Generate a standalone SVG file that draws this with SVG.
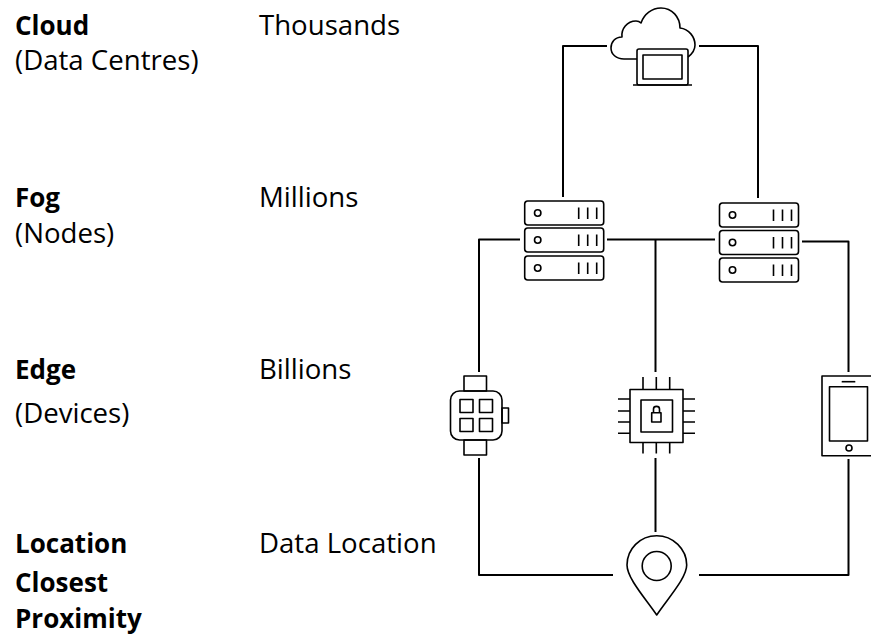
<svg xmlns="http://www.w3.org/2000/svg" width="871" height="635" viewBox="0 0 871 635">
<style>
text{font-family:"Open Sans","Noto Sans","Liberation Sans",sans-serif;font-size:27.6px;fill:#000}
.b{font-weight:700;font-size:26px}
.l{fill:none;stroke:#000;stroke-width:2;stroke-linejoin:round}
.t{fill:none;stroke:#000;stroke-width:1.6;stroke-linejoin:round}
</style>
<rect width="871" height="635" fill="#fff"/>
<g id="labels">
<text class="b" x="15" y="35">Cloud</text>
<text x="15" y="70">(Data Centres)</text>
<text x="259" y="35">Thousands</text>
<text class="b" x="15" y="207">Fog</text>
<text x="15" y="243">(Nodes)</text>
<text x="259" y="207">Millions</text>
<text class="b" x="15" y="379">Edge</text>
<text x="15" y="423">(Devices)</text>
<text x="259" y="379">Billions</text>
<text class="b" x="15" y="553">Location</text>
<text class="b" x="15" y="592">Closest</text>
<text class="b" x="15" y="628">Proximity</text>
<text x="259" y="553">Data Location</text>
</g>
<g id="connectors" class="l">
<path d="M563 197V46H607"/>
<path d="M699 46H758V198"/>
<path d="M520 239.500H479V372"/>
<path d="M607 239.500H715"/>
<path d="M655.500 240V372"/>
<path d="M802 241.500H848.500V372"/>
<path d="M479 458V575H613"/>
<path d="M699 575H848.500V459"/>
<path d="M655.500 458V532"/>
</g>
<g id="cloud" class="t">
<path d="M637 59H624C616 59 611 54 611 48C611 42 615 37 622 37C621 29 627 21 636 21C638 21 640 22 641 23C644 14 652 8 661 8C672 8 680 17 680 28C689 29 695 37 695 45C695 50 692 54 688 57"/>
<rect x="637" y="49" width="51" height="36" rx="2"/>
<rect x="643" y="55" width="39" height="24"/>
<path d="M633 85H692"/>
</g>
<defs>
<g id="srv" class="t">
<rect x="0" y="0" width="79" height="24" rx="3"/>
<circle cx="13" cy="12" r="3.200"/>
<path d="M54 6.500V18M63 6.500V18M72 6.500V18"/>
</g>
</defs>
<g id="server-left">
<use href="#srv" x="524.700" y="201"/>
<use href="#srv" x="524.700" y="228"/>
<use href="#srv" x="524.700" y="256"/>
</g>
<g id="server-right">
<use href="#srv" x="719.500" y="203"/>
<use href="#srv" x="719.500" y="230.500"/>
<use href="#srv" x="719.500" y="258"/>
</g>
<g id="watch" class="t">
<rect x="464" y="376" width="22.500" height="15"/>
<rect x="464" y="440" width="22.500" height="15"/>
<rect x="450.500" y="391" width="51.500" height="49" rx="9"/>
<rect x="460" y="399.500" width="13" height="13"/>
<rect x="479.500" y="399.500" width="13" height="13"/>
<rect x="460" y="418.500" width="13" height="13"/>
<rect x="479.500" y="418.500" width="13" height="13"/>
<rect x="502" y="408" width="6.500" height="15"/>
</g>
<g id="chip" class="t">
<rect x="630" y="389.500" width="53" height="53"/>
<rect x="641" y="400" width="31.500" height="32"/>
<rect x="651.700" y="412.700" width="9.300" height="9.300"/>
<path d="M653.500 412.700V409C653.500 405.500 659.500 405.500 659.500 409V412.700"/>
<path d="M643 377V389.500M656.300 377V389.500M669.700 377V389.500M643 442.500V453.500M656.300 442.500V453.500M669.700 442.500V453.500M618 399H630M618 411H630M618 422H630M618 433.300H630M683 399H695M683 411H695M683 422H695M683 433.300H695"/>
</g>
<g id="tablet" class="t">
<path d="M871 376H822V455.700H871"/>
<rect x="829.500" y="386.700" width="38" height="54.300"/>
<path d="M841.700 381.700H855.300"/>
<circle cx="849" cy="448" r="3"/>
</g>
<g id="pin" class="t">
<path d="M656.700 615C645 598 627 578 627 565C627 549 640 535.700 656.700 535.700C673 535.700 686.700 549 686.700 565C686.700 578 668 598 656.700 615Z"/>
<circle cx="656.700" cy="566" r="14.500"/>
</g>
</svg>
